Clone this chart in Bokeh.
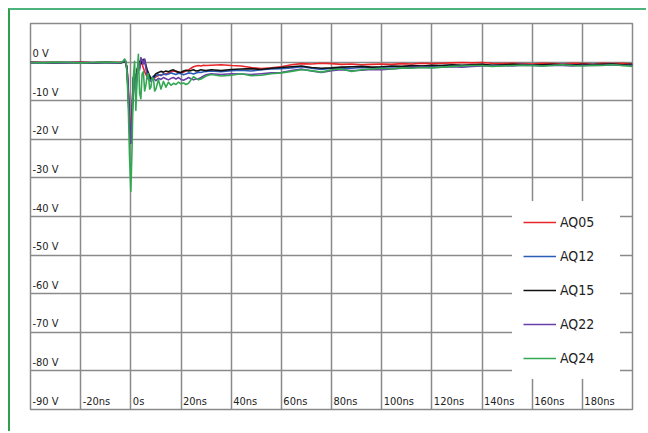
from bokeh.plotting import figure
from bokeh.models import Range1d, FixedTicker, Legend, LegendItem
from bokeh.core.properties import value
from bokeh.embed import file_html
from bokeh.resources import INLINE

FONT = "Liberation Sans Narrow, DejaVu Sans Condensed, Roboto"

# time axis (ns)
T_NS = [-40, -35, -30, -25, -20, -15, -10, -6, -4, -3,
        -2.5, -2, -1.5, -1, -0.5, 0, 0.5, 1, 1.5, 2, 2.5, 3, 3.5, 4, 4.5, 5, 5.5, 6, 6.5, 7,
        7.5, 8, 8.5, 9, 9.5, 10, 11, 12,
        13, 14, 15, 16, 17, 18, 19, 20, 21, 22, 23, 24, 25, 26, 27, 28, 29, 30,
        32, 36, 40, 44, 48, 52, 56, 60, 64, 68, 72, 76, 80, 84, 88, 92, 96, 100,
        104, 108, 112, 116, 120, 124, 128, 132, 136, 140, 144, 148, 152, 156, 160,
        164, 168, 172, 176, 180, 184, 188, 192, 196, 200]

AQ05 = [0.0, -0.1, 0.0, -0.1, 0.0, -0.1, 0.0, -0.1, 0.0, 0.1,
        0.2, 0.0, -1.5, -7, -14, -18, -12, -4, -3, -6, -2, -1, -1.5, 0.2, -0.5, -1.5, -2.5, -3.2, -3.8, -4.2,
        -4.4, -4.5, -4.2, -4.0, -4.1, -3.8, -3.5, -3.3,
        -3.2, -3.0, -2.8, -2.6, -2.3, -2.4, -2.6, -2.8, -2.6, -2.3, -2.0, -1.6, -1.2, -1.0, -0.9, -1.0, -0.8, -0.9,
        -0.8, -0.7, -0.9, -1.0, -1.4, -1.7, -1.5, -1.2, -0.7, -0.4, -0.5, -0.3, -0.4, -0.6, -0.5, -0.7, -0.6, -0.5,
        -0.6, -0.4, -0.5, -0.3, -0.4, -0.3, -0.2, -0.1, -0.2, -0.1, -0.3, -0.4, -0.3, -0.4, -0.5,
        -0.3, -0.4, -0.5, -0.3, -0.4, -0.5, -0.3, -0.4, -0.3, -0.5]

AQ12 = [-0.1, -0.2, -0.1, -0.1, -0.2, -0.1, -0.1, -0.2, -0.1, 0.0,
        0.2, 0.0, -2, -8, -16, -20, -13, -4, -5, -7, -2.5, -0.8, -1.5, 0.8, 0.4, -0.3, 0.3, -1.2, -2.8, -3.8,
        -4.2, -4.5, -4.0, -3.6, -3.9, -3.5, -3.2, -3.5,
        -3.0, -3.3, -3.1, -2.8, -3.0, -3.2, -2.9, -3.0, -3.3, -3.1, -2.8, -2.9, -3.1, -2.8, -2.6, -2.7, -2.5, -2.4,
        -2.3, -2.5, -2.2, -2.1, -2.3, -2.0, -1.8, -1.7, -1.5, -1.2, -1.6, -1.9, -1.6, -1.5, -1.6, -1.4, -1.5, -1.3,
        -1.2, -1.3, -1.1, -1.0, -1.1, -0.9, -0.8, -0.9, -0.8, -0.7, -0.8, -0.9, -0.7, -0.6, -0.8,
        -0.7, -0.8, -0.6, -0.7, -0.8, -0.6, -0.7, -0.6, -0.8, -0.7]

AQ15 = [-0.1, -0.1, -0.2, -0.1, -0.1, -0.2, -0.1, -0.1, -0.2, 0.0,
        0.2, 0.0, -2, -9, -18, -21, -15, -5, -3, -6, -2, -0.5, 0.2, -0.5, 0.3, 0.7, 0.6, -0.8, -2.0, -2.8,
        -3.6, -4.2, -4.4, -4.0, -3.4, -3.0, -2.7, -2.4,
        -2.6, -2.3, -2.5, -2.2, -2.0, -2.4, -2.6, -2.7, -2.3, -2.1, -2.3, -2.2, -2.0, -2.3, -2.2, -2.0, -2.1, -2.2,
        -2.0, -2.2, -1.9, -1.8, -1.7, -1.9, -1.6, -1.4, -1.2, -1.0, -1.4, -1.6, -1.5, -1.3, -1.2, -1.1, -1.3, -1.2,
        -1.0, -1.1, -0.9, -1.0, -0.8, -0.9, -0.7, -0.8, -0.7, -0.6, -0.8, -0.7, -0.6, -0.7, -0.8,
        -0.7, -0.6, -0.7, -0.8, -0.6, -0.7, -0.6, -0.5, -0.7, -0.6]

AQ22 = [-0.2, -0.1, -0.2, -0.2, -0.1, -0.2, -0.1, -0.2, -0.1, 0.1,
        0.3, 0.0, -2, -8, -17, -21, -14, -4, -6, -9, -3, -1, -2, 1.2, 0.5, -0.5, 0.8, -1.5, -3.5, -4.5,
        -4.8, -5.0, -4.6, -4.2, -4.5, -4.8, -4.2, -4.5,
        -4.0, -4.3, -4.6, -4.2, -4.0, -4.4, -4.0, -4.5, -4.7, -4.4, -4.0, -4.3, -4.6, -4.4, -4.3, -4.0, -3.6, -3.3,
        -3.0, -3.2, -3.0, -3.1, -3.2, -3.0, -2.8, -2.7, -2.2, -1.8, -2.3, -2.7, -2.2, -2.0, -2.2, -2.1, -1.9, -2.0,
        -1.8, -1.6, -1.4, -1.3, -1.4, -1.3, -1.2, -1.3, -1.1, -1.0, -1.0, -0.9, -1.0, -0.8, -0.9,
        -1.0, -0.8, -0.9, -1.0, -0.8, -0.9, -0.8, -0.7, -0.9, -0.8]

AQ24 = [-0.1, -0.2, 0.0, -0.1, -0.2, -0.1, 0.0, -0.1, -0.1, 0.3,
        0.8, 0.3, -3, -12, -25, -33.5, -22, -4, 0.2, -12.5, -4, 2.0, -8, -9.5, -3, -2.5, -7.5, -6, -3.5, -3,
        -7, -6.5, -4, -4.2, -7.5, -7, -4.5, -7,
        -5, -6.5, -5.2, -6, -5.5, -5.8, -5.2, -5.6, -5.4, -5.8, -5.5, -4.6, -3.8, -4.2, -4.6, -4.4, -4.0, -3.6,
        -3.2, -3.6, -3.4, -3.0, -3.5, -3.4, -3.0, -2.8, -2.4, -2.0, -2.2, -2.6, -2.0, -1.8, -2.4, -2.0, -1.8, -1.6,
        -1.8, -1.5, -1.6, -1.4, -1.5, -1.3, -1.1, -1.0, -0.9, -0.9, -1.1, -1.0, -0.9, -0.8, -0.9,
        -1.0, -0.9, -0.7, -0.9, -1.0, -0.8, -0.9, -0.7, -0.9, -1.1]

SERIES = ["AQ05", "AQ12", "AQ15", "AQ22", "AQ24"]
VALUES = [AQ05, AQ12, AQ15, AQ22, AQ24]
COLORS = ["#e8262a", "#2a5db8", "#111111", "#6a3fa8", "#33a852"]

X_GRID = [-20, 0, 20, 40, 60, 80, 100, 120, 140, 160, 180]
X_LABELS = ["-20ns", "0s", "20ns", "40ns", "60ns", "80ns", "100ns", "120ns", "140ns", "160ns", "180ns"]
Y_GRID = [0, -10, -20, -30, -40, -50, -60, -70, -80]
Y_TICKS = [0, -10, -20, -30, -40, -50, -60, -70, -80, -90]
Y_LABELS = ["0 V", "-10 V", "-20 V", "-30 V", "-40 V", "-50 V", "-60 V", "-70 V", "-80 V", "-90 V"]

p = figure(width=638, height=423, output_backend="svg", toolbar_location=None,
           x_range=Range1d(-40, 200), y_range=Range1d(-90, 10),
           min_border_left=20, min_border_right=16, min_border_top=13, min_border_bottom=24)
p.styles = {"margin-left": "8px", "margin-top": "8px",
            "border-left": "2px solid #2ea04a", "border-top": "2px solid #4cb47c"}
p.xaxis.visible = False
p.yaxis.visible = False
p.background_fill_color = "white"
p.border_fill_color = "white"
p.outline_line_color = "#8a8a8a"
p.outline_line_width = 1.5
p.xgrid.ticker = FixedTicker(ticks=X_GRID)
p.ygrid.ticker = FixedTicker(ticks=Y_GRID)
for g in (p.xgrid, p.ygrid):
    g.grid_line_color = "#8a8a8a"
    g.grid_line_width = 1.5
    g.grid_line_alpha = 1.0

p.text(x=[-40] * len(Y_TICKS), y=Y_TICKS, text=Y_LABELS, x_offset=2, y_offset=-2,
       text_baseline="bottom", text_align="left", text_font=value(FONT),
       text_font_size="11px", text_color="#222222")
p.text(x=X_GRID, y=[-90] * len(X_GRID), text=X_LABELS, x_offset=2, y_offset=-2,
       text_baseline="bottom", text_align="left", text_font=value(FONT),
       text_font_size="11px", text_color="#222222")

items = []
for name, vals, col in zip(SERIES, VALUES, COLORS):
    r = p.line(T_NS, vals, line_color=col, line_width=1.6, line_join="round")
    items.append(LegendItem(label=name, renderers=[r]))

legend = Legend(items=items, location=(482, 30), glyph_width=33, glyph_height=20,
                spacing=14, padding=11, margin=0, label_standoff=4, label_width=49,
                label_text_font=FONT, label_text_font_size="14px", label_text_color="#222222",
                background_fill_color="white", background_fill_alpha=1.0,
                border_line_alpha=0)
p.add_layout(legend)

open("out.html", "w").write(file_html(p, INLINE))
